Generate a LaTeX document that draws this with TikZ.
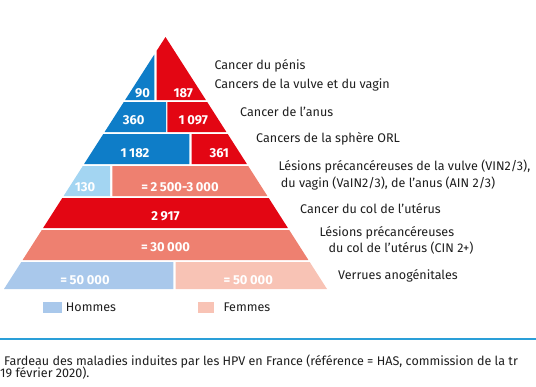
\documentclass[tikz,border=0pt]{standalone}
\usepackage{fontspec}
\setmainfont{Fira Sans}
\definecolor{cblue}{HTML}{0E7DC8}
\definecolor{cred}{HTML}{E30613}
\definecolor{csalmon}{HTML}{EE8070}
\definecolor{clightblue}{HTML}{A3D5F2}
\definecolor{chommes}{HTML}{A9C8EB}
\definecolor{cfemmes}{HTML}{F8C3B5}
\definecolor{cline}{HTML}{2A9FD8}
\definecolor{ctext}{HTML}{1E1E1E}
\newcommand{\gsp}{\kern2.6bp}
\begin{document}
\begin{tikzpicture}[x=1bp,y=-1bp,
  num/.style={text=white,font=\fontsize{13}{14}\selectfont\bfseries,inner sep=0pt},
  lab/.style={text=ctext,font=\fontsize{12.6}{14}\selectfont,anchor=west,inner sep=0pt},
  captext/.style={text=ctext,font=\fontsize{12.6}{13}\selectfont,anchor=west,inner sep=0pt}]
\useasboundingbox (0,0) rectangle (536,386);
\clip (0,0) rectangle (536,386);
% row 1
\fill[cblue] (125.1,100) -- (154.3,100) -- (154.3,54.5) -- cycle;
\fill[cred] (156.7,50.7) -- (165.5,37) -- (205.9,100) -- (156.7,100) -- cycle;
% row 2
\fill[cblue] (123.8,102) -- (166,102) -- (166,132) -- (104.6,132) -- cycle;
\fill[cred] (167.3,102) -- (207.2,102) -- (226.4,132) -- (167.3,132) -- cycle;
% row 3
\fill[cblue] (103.3,134) -- (189.3,134) -- (189.3,164) -- (84.1,164) -- cycle;
\fill[cred] (191.7,134) -- (227.7,134) -- (246.9,164) -- (191.7,164) -- cycle;
% row 4
\fill[clightblue] (82.8,166) -- (110,166) -- (110,196) -- (63.6,196) -- cycle;
\fill[csalmon] (112.3,166) -- (248.2,166) -- (267.4,196) -- (112.3,196) -- cycle;
% row 5
\fill[cred] (62.3,198) -- (268.7,198) -- (287.9,228) -- (43.1,228) -- cycle;
% row 6
\fill[csalmon] (41.8,230) -- (289.2,230) -- (308.4,260) -- (22.6,260) -- cycle;
% row 7
\fill[chommes] (21.3,262) -- (173.3,262) -- (173.3,289) -- (4,289) -- cycle;
\fill[cfemmes] (175.7,262) -- (309.7,262) -- (327,289) -- (175.7,289) -- cycle;
% numbers
\node[num] (n90) at (142.5,93.3) {90};
\node[num] (n187) at (183.3,93.3) {187};
\node[num] (n360) at (133.7,120) {360};
\node[num] (n1097) at (193.3,120) {1\gsp097};
\node[num] (n1182) at (135,152.7) {1\gsp182};
\node[num] (n361) at (219.3,152.7) {361};
\node[num] (n130) at (85,186.7) {130};
\node[num] (n2500) at (180,186.7) {=\gsp2\gsp500-3\gsp000};
\node[num] (n2917) at (165.5,216.7) {2\gsp917};
\node[num] (n30000) at (165.5,246.7) {=\gsp30\gsp000};
\node[num] (nh50000) at (85,280) {=\gsp50\gsp000};
\node[num] (nf50000) at (248.3,280) {=\gsp50\gsp000};
% labels
\node[lab] (l1) at (214.3,66) {Cancer du pénis};
\node[lab] (l2) at (214.3,85) {Cancers de la vulve et du vagin};
\node[lab] (l3) at (240,111.7) {Cancer de l’anus};
\node[lab] (l4) at (256,139.3) {Cancers de la sphère ORL};
\node[lab] (l5) at (278.3,166.7) {Lésions précancéreuses de la vulve (VIN2/3),};
\node[lab] (l5b) at (280.7,183.3) {du vagin (VaIN2/3), de l’anus (AIN 2/3)};
\node[lab] (l6) at (300,208.3) {Cancer du col de l’utérus};
\node[lab] (l7) at (319.3,233.3) {Lésions précancéreuses};
\node[lab] (l7b) at (328.3,248.3) {du col de l’utérus (CIN 2+)};
\node[lab] (l8) at (338,276) {Verrues anogénitales};
% legend
\fill[chommes] (43.3,302.3) rectangle (61.7,312.7);
\node[lab] (lh) at (65.7,307.5) {Hommes};
\fill[cfemmes] (197.7,302.3) rectangle (214.3,312.7);
\node[lab] (lf) at (223.3,307.5) {Femmes};
% rule
\draw[cline,line width=2bp] (0,339.3) -- (536,339.3);
% caption
\node[captext] (c1) at (4,362) {Fardeau des maladies induites par les HPV en France (référence = HAS, commission de la tr};
\node[captext] (c2) at (0,373.5) {19 février 2020).};
\end{tikzpicture}
\end{document}
